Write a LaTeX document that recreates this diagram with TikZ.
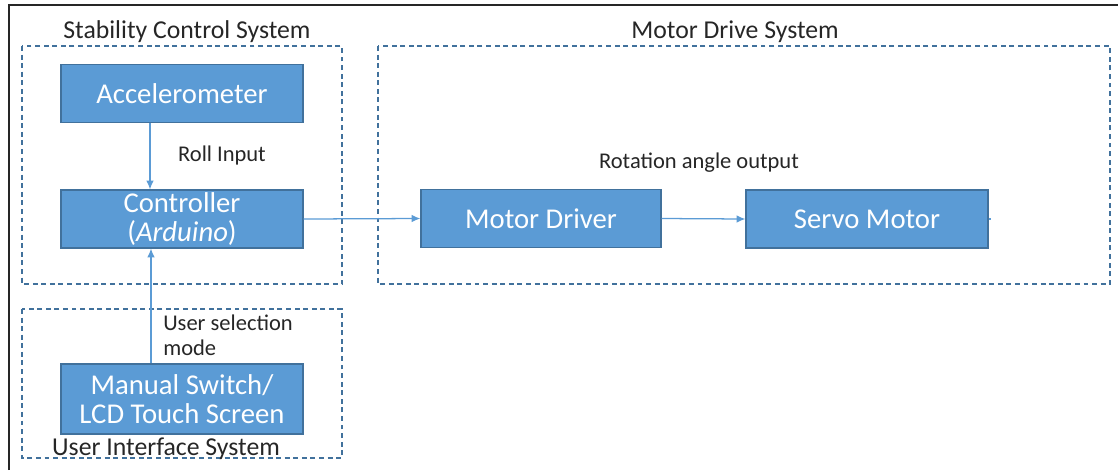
\documentclass[tikz,border=0pt]{standalone}
\usepackage{fontspec}
\setmainfont{Carlito}
\usetikzlibrary{arrows.meta}
\definecolor{boxblue}{HTML}{5B9BD5}
\definecolor{boxedge}{HTML}{41719C}
\definecolor{labelgray}{HTML}{262626}
\tikzset{
  block/.style={draw=boxedge,fill=boxblue,line width=0.8pt,text=white,
    minimum width=6.05cm,font=\fontsize{20.4}{20.5}\selectfont,align=center,inner sep=0pt},
  group/.style={draw=boxedge,line width=0.9pt,dash pattern=on 3.5pt off 2.6pt},
  link/.style={draw=boxblue,line width=0.9pt,-{Latex[length=2.2mm,width=1.9mm]}},
  title/.style={text=labelgray,font=\fontsize{18.3}{20}\selectfont,inner sep=0pt},
  note/.style={text=labelgray,font=\fontsize{16}{18}\selectfont,inner sep=0pt}
}
\begin{document}
\begin{tikzpicture}[x=0.025cm,y=-0.025cm]
\useasboundingbox (0,0) rectangle (1118,470);
% outer frame, top and left sides only
\draw[line width=1.6pt,black!85] (9,470) -- (9,5) -- (1118,5);
% subsystem frames
\draw[group] (22,46) rectangle (342,284);
\draw[group] (378,46) rectangle (1110,284);
\draw[group] (22,309) rectangle (342,458);
\node[title] (sctitle) at (187,32) {Stability Control System};
\node[title] (mdtitle) at (735,32) {Motor Drive System};
\node[title] (uititle) at (166,449) {User Interface System};
% blocks
\node[block,minimum height=1.43cm] (acc) at (182,93.5) {Accelerometer};
\node[block,minimum height=1.45cm] (ctrl) at (182,219) {Controller\\(\textit{Arduino})};
\node[block,minimum height=1.75cm] (ui) at (182,399) {Manual Switch/\\LCD Touch Screen};
\node[block,minimum width=6cm,minimum height=1.43cm] (drv) at (541,218.5) {Motor Driver};
\node[block,minimum height=1.45cm] (servo) at (867,219) {Servo Motor};
% signal flow
\draw[link] ([xshift=-0.8cm]acc.south) -- ([xshift=-0.8cm]ctrl.north);
\draw[link] ([xshift=-0.775cm]ui.north) -- ([xshift=-0.775cm]ctrl.south);
\draw[link] (ctrl.east) -- (drv.west);
\draw[link] (drv.east) -- (servo.west);
\coordinate (servoout) at ([xshift=0.06cm]servo.east);
\draw[draw=boxblue,line width=0.9pt] (servo.east) -- (servoout);
% signal labels
\node[note] (roll) at (222,155) {Roll Input};
\node[note,anchor=west,align=left] (usel) at (163,335) {User selection\\mode};
\node[note] (rot) at (699,163) {Rotation angle output};
\end{tikzpicture}
\end{document}
